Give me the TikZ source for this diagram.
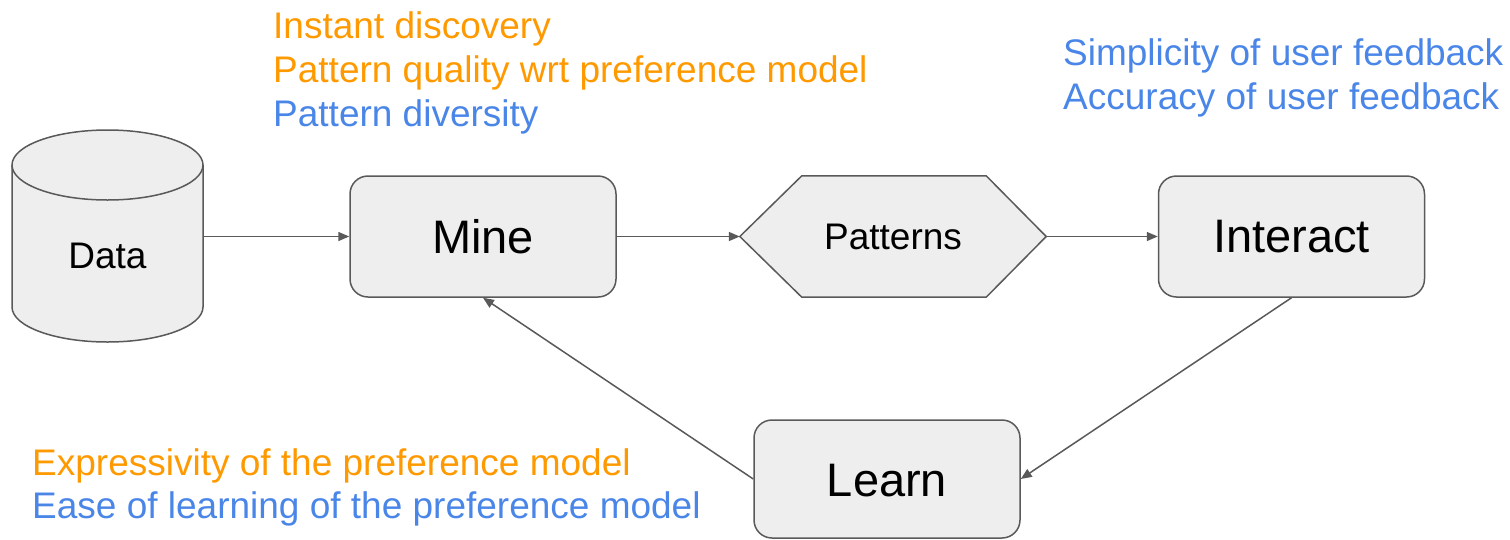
\documentclass[tikz,border=0pt]{standalone}
\usepackage{fontspec}
\setmainfont{Liberation Sans}
\usetikzlibrary{arrows.meta}
\definecolor{gorange}{HTML}{FF9900}
\definecolor{gblue}{HTML}{4A86E8}
\definecolor{boxfill}{HTML}{EEEEEE}
\definecolor{boxline}{HTML}{595959}
\tikzset{
  box/.style={draw=boxline, fill=boxfill, line width=1.5pt, rounded corners=18pt, minimum width=266pt, minimum height=121pt, inner sep=0pt, font=\fontsize{47}{54}\selectfont},
  ghost/.style={minimum width=#1, inner sep=0pt, minimum height=121pt},
  conn/.style={draw=boxline, line width=1.5pt, -{Triangle[length=11pt,width=9pt]}},
  lbl/.style={anchor=base west, inner sep=0pt, font=\fontsize{37}{44}\selectfont},
  small/.style={font=\fontsize{37}{44}\selectfont, inner sep=0pt},
}
\begin{document}
\begin{tikzpicture}[x=1pt,y=1pt]
\useasboundingbox (0,0) rectangle (1510,-539);
% cylinder
\filldraw[draw=boxline, fill=boxfill, line width=1.5pt]
  (12,-165) -- (12,-307) arc[start angle=180,end angle=360,x radius=95.5,y radius=35]
  -- (203,-165) arc[start angle=0,end angle=180,x radius=95.5,y radius=35] -- cycle;
\draw[draw=boxline, line width=1.5pt] (12,-165) arc[start angle=180,end angle=360,x radius=95.5,y radius=35];
\node[ghost=191pt, minimum height=209pt] (data) at (107.5,-236.5) {};
\node[small] (datatext) at (107.5,-256) {Data};
% boxes
\node[box] (mine) at (483,-236.5) {Mine};
\node[ghost=306pt] (pat) at (893,-236.5) {};
\filldraw[draw=boxline, fill=boxfill, line width=1.5pt, line join=miter]
  (pat.west) -- ([xshift=62pt]pat.north west) -- ([xshift=-60pt]pat.north east) -- (pat.east)
  -- ([xshift=-60pt]pat.south east) -- ([xshift=62pt]pat.south west) -- cycle;
\node[small] (pattext) at (893,-236.5) {Patterns};
\node[box] (interact) at (1291.5,-236.5) {Interact};
\node[box, minimum height=118pt, text depth=0pt] (learn) at (887,-479) {\raisebox{-2pt}{Learn}};
% connectors
\draw[conn] (data.east) -- (mine.west);
\draw[conn] (mine.east) -- (pat.west);
\draw[conn] (pat.east) -- (interact.west);
\draw[conn] (interact.south) -- (learn.east);
\draw[conn] (learn.west) -- (mine.south);
% labels
\node[lbl, text=gorange] (t1) at (273,-38) {Instant discovery};
\node[lbl, text=gorange] (t2) at (273,-82) {Pattern quality wrt preference model};
\node[lbl, text=gblue] (t3) at (273,-126) {Pattern diversity};
\node[lbl, text=gblue] (r1) at (1063,-65) {Simplicity of user feedback};
\node[lbl, text=gblue] (r2) at (1063,-109) {Accuracy of user feedback};
\node[lbl, text=gorange] (b1) at (32,-475) {Expressivity of the preference model};
\node[lbl, text=gblue] (b2) at (32,-518) {Ease of learning of the preference model};
\end{tikzpicture}
\end{document}
